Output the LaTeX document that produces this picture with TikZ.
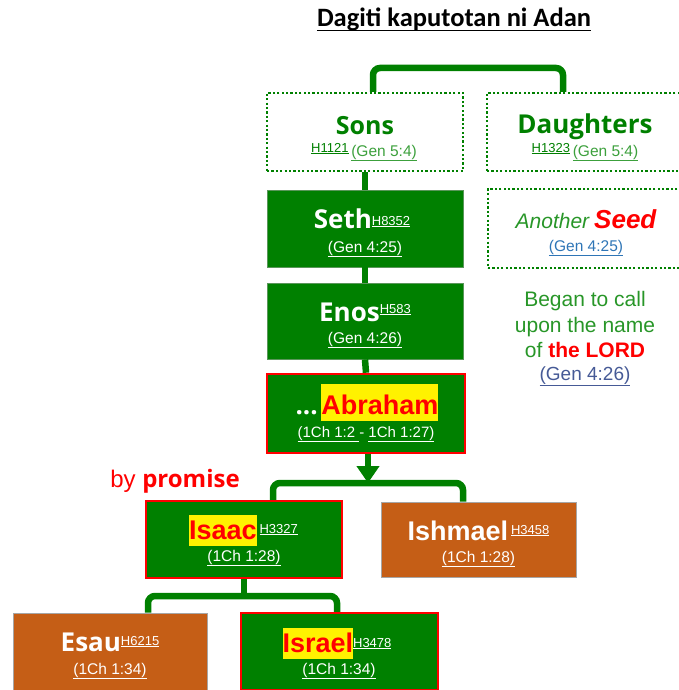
\documentclass[tikz,border=0pt]{standalone}
\usepackage{fontspec}
\setmainfont{Liberation Sans}
\newfontfamily\dtitlef{Carlito}
\newfontfamily\dopen{Open Sans}
\usetikzlibrary{arrows.meta}
\definecolor{dgreen}{RGB}{0,128,0}
\definecolor{mgreen}{RGB}{60,160,60}
\definecolor{tgreen}{RGB}{40,150,40}
\definecolor{orng}{RGB}{197,94,22}
\definecolor{lnkblue}{RGB}{46,117,182}
\definecolor{slate}{RGB}{70,90,150}
\newcommand\dnm[2][26]{{\dopen\bfseries\fontsize{#1}{#1}\selectfont #2}}
\newcommand\dnma[2][26]{{\bfseries\fontsize{#1}{#1}\selectfont #2}}
\newcommand\dhno[2][3pt]{{\fontsize{13}{13}\selectfont\raisebox{#1}{\underline{#2}}}}
\newcommand\drefu[1]{{\fontsize{15.5}{15.5}\selectfont\underline{#1}}}
\newcommand\dhlt[2][31pt]{{\setlength\fboxsep{0pt}\colorbox{yellow}{\rule[-7pt]{0pt}{#1}\color{red}#2}}}
\begin{document}
\begin{tikzpicture}[x=1pt,y=-1pt,
  txt/.style={inner sep=0pt, anchor=base},
  gbox/.style={draw={rgb,255:red,90;green,150;blue,90}, line width=0.8pt, fill=dgreen, minimum width=196pt, minimum height=77pt, inner sep=0pt},
  rbox/.style={draw=red, line width=2.5pt, fill=dgreen, minimum width=196pt, minimum height=77pt, inner sep=0pt},
  obox/.style={draw=gray!70, line width=0.8pt, fill=orng, minimum width=195pt, minimum height=77pt, inner sep=0pt},
  dbox/.style={draw=dgreen, line width=2.2pt, dash pattern=on 2.2pt off 2.2pt, minimum width=196pt, minimum height=78pt, inner sep=0pt},
  conn/.style={draw=dgreen, line width=6.5pt, rounded corners=7pt}]
\useasboundingbox (0,0) rectangle (679,690);
% title
\node[txt, font=\dtitlef\bfseries\fontsize{26.5}{26.5}\selectfont] (title) at (454,27) {Dagiti kaputotan ni Adan};
\draw[line width=1.8pt] ([yshift=-3.5pt]title.base west) -- ([yshift=-3.5pt]title.base east);
% boxes
\node[dbox] (sons) at (365,132) {};
\node[dbox] (dau) at (585,132) {};
\node[gbox] (seth) at (365,228.5) {};
\node[dbox, minimum height=79pt] (seed) at (586,228.5) {};
\node[gbox, minimum height=76pt] (enos) at (365,321) {};
\node[rbox, minimum width=198pt, minimum height=79pt] (abr) at (366,413.5) {};
\node[rbox] (isaac) at (244,539.5) {};
\node[obox, minimum height=75pt] (ishm) at (478.5,539.5) {};
\node[obox, minimum width=194pt] (esau) at (110,651.5) {};
\node[rbox, minimum width=197pt] (israel) at (339.5,651.5) {};
% connectors
\coordinate (topbar) at (470,68);
\draw[conn] ([xshift=8pt]sons.north) |- (topbar) -| ([xshift=-22pt]dau.north);
\draw[conn] (sons.south) -- (seth.north);
\draw[conn] (seth.south) -- (enos.north);
\draw[conn] (enos.south) -- (abr.north);
\coordinate (bar1) at (366,483);
\draw[dgreen, line width=6.5pt, -{Triangle[width=22pt,length=17pt]}] ([xshift=2pt]abr.south) -- ([xshift=2pt]abr.south |- bar1);
\draw[conn] ([xshift=29pt]isaac.north) |- (bar1) -| ([xshift=-15.5pt]ishm.north);
\coordinate (bar2) at (244,596);
\draw[conn] (isaac.south) -- (bar2);
\draw[conn] ([xshift=38pt]esau.north) |- (bar2) -| ([xshift=-2.5pt]israel.north);
% texts
\node[txt, text=dgreen] (sonsT) at (365,134) {\dnm[25]{Sons}};
\node[txt] (sonsR) at (364,156) {\color{dgreen}\dhno[4pt]{H1121} \color{mgreen}\drefu{(Gen 5:4)}};
\node[txt, text=dgreen] (dauT) at (585,133) {\dnm[26]{Daughters}};
\node[txt] (dauR) at (585,156) {\color{dgreen}\dhno[4pt]{H1323} \color{mgreen}\drefu{(Gen 5:4)}};
\node[txt, text=white] (sethT) at (362,228) {\dnm{Seth}\dhno{H8352}};
\node[txt, text=white] (sethR) at (365,252) {\drefu{(Gen 4:25)}};
\node[txt] (seedT) at (586,228) {{\color{tgreen}\itshape\fontsize{21}{21}\selectfont Another}\hspace{5pt}{\color{red}\bfseries\itshape\fontsize{26}{26}\selectfont Seed}};
\node[txt, text=lnkblue] (seedR) at (586,251) {\drefu{(Gen 4:25)}};
\node[txt, text=white] (enosT) at (365,321) {\dnm{Enos}\dhno[8pt]{H583}};
\node[txt, text=white] (enosR) at (365,343) {\drefu{(Gen 4:26)}};
\node[txt, text=tgreen, font=\fontsize{21}{21}\selectfont] (began1) at (585,306) {Began to call};
\node[txt, text=tgreen, font=\fontsize{21}{21}\selectfont] (began2) at (585,332) {upon the name};
\node[txt, text=tgreen, font=\fontsize{21}{21}\selectfont] (began3) at (585,357) {of {\color{red}\bfseries the LORD}};
\node[txt, text=slate, font=\fontsize{19}{19}\selectfont] (began4) at (585,380) {\underline{(Gen 4:26)}};
\node[txt, text=white] (abrT) at (367,414) {\dnm{...} \dhlt[37pt]{\dnma[27]{Abraham}}};
\node[txt, text=white] (abrR) at (366,437) {{\fontsize{15}{15}\selectfont\underline{(1Ch 1:2 }- \underline{1Ch 1:27)}}};
\node[txt, text=red, font=\fontsize{24}{24}\selectfont] (prom) at (175,487) {by {\dopen\bfseries promise}};
\node[txt, text=white] (isaacT) at (243.5,539) {\dhlt{\dnma[27]{Isaac}} \dhno[6pt]{H3327}};
\node[txt, text=white] (isaacR) at (244,561) {\drefu{(1Ch 1:28)}};
\node[txt, text=white] (ishmT) at (478.5,540) {\dnma[27]{Ishmael} \dhno[6pt]{H3458}};
\node[txt, text=white] (ishmR) at (478.5,562) {\drefu{(1Ch 1:28)}};
\node[txt, text=white] (esauT) at (110,651) {\dnm{Esau}\dhno[6pt]{H6215}};
\node[txt, text=white] (esauR) at (110,674) {\drefu{(1Ch 1:34)}};
\node[txt, text=white] (israelT) at (337,652) {\dhlt{\dnma[27]{Israel}}\dhno[5pt]{H3478}};
\node[txt, text=white] (israelR) at (339,674) {\drefu{(1Ch 1:34)}};
\end{tikzpicture}
\end{document}
